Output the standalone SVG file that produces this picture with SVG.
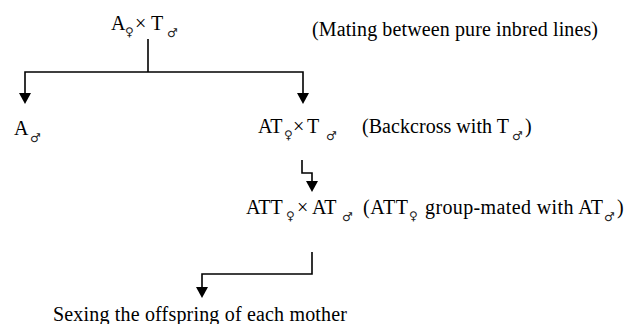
<svg xmlns="http://www.w3.org/2000/svg" width="628" height="324" viewBox="0 0 628 324">
<style>
text{font-family:"Liberation Serif","Times New Roman",serif;font-size:20px;fill:#000}
text.s{font-family:"DejaVu Sans","Liberation Serif",sans-serif;font-size:12px;fill:#222}
.c{fill:none;stroke:#000;stroke-width:1.6}
</style>
<defs>
<marker id="ah" markerUnits="userSpaceOnUse" markerWidth="12" markerHeight="12" viewBox="0 0 11 12" refX="6" refY="6" orient="auto">
<path d="M0,0 L11,6 L0,12 Z" fill="#000"/>
</marker>
</defs>
<rect width="628" height="324" fill="#fff"/>
<g id="connectors">
<path class="c" d="M148,39 V72"/>
<path class="c" d="M148,72 H25 V99" marker-end="url(#ah)"/>
<path class="c" d="M148,72 H303 V99" marker-end="url(#ah)"/>
<path class="c" d="M302,160 V173 H312 V187" marker-end="url(#ah)"/>
<path class="c" d="M312,252 V274 H202 V293" marker-end="url(#ah)"/>
</g>
<g id="n_cross1">
<text x="111" y="30">A</text><text class="s" x="125" y="36">♀</text><text x="135" y="30">×</text><text x="151" y="30">T</text><text class="s" x="167" y="37">♂</text>
</g>
<g id="n_note1">
<text x="312" y="36" textLength="286" lengthAdjust="spacing">(Mating between pure inbred lines)</text>
</g>
<g id="n_Amale">
<text x="14" y="135">A</text><text class="s" x="30" y="142">♂</text>
</g>
<g id="n_cross2">
<text x="258" y="133">AT</text><text class="s" x="284" y="139">♀</text><text x="293" y="133">×</text><text x="307" y="133">T</text><text class="s" x="326" y="140">♂</text>
</g>
<g id="n_note2">
<text x="362" y="133" textLength="147" lengthAdjust="spacing">(Backcross with T</text><text class="s" x="512" y="140">♂</text><text x="525" y="133">)</text>
</g>
<g id="n_cross3">
<text x="246" y="214">ATT</text><text class="s" x="286" y="220">♀</text><text x="297" y="214">×</text><text x="312" y="214">AT</text><text class="s" x="342" y="221">♂</text>
</g>
<g id="n_note3">
<text x="363" y="214" textLength="45" lengthAdjust="spacing">(ATT</text><text class="s" x="409" y="220">♀</text><text x="425" y="214" textLength="178" lengthAdjust="spacing">group-mated with AT</text><text class="s" x="604" y="221">♂</text><text x="617" y="214">)</text>
</g>
<g id="n_sexing">
<text x="53" y="321" textLength="294" lengthAdjust="spacing">Sexing the offspring of each mother</text>
</g>
</svg>
